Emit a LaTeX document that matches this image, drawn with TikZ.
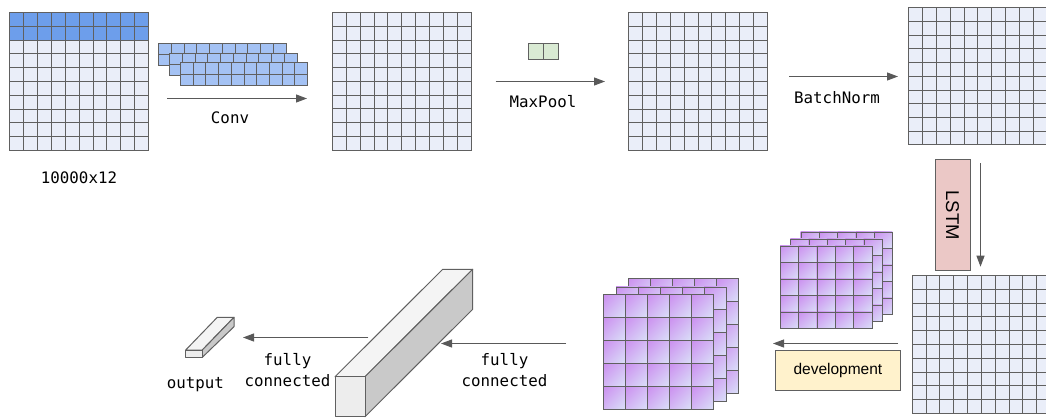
\documentclass[tikz,border=0pt]{standalone}
\usepackage{fontspec}
\setmonofont{DejaVu Sans Mono}
\setsansfont{Liberation Sans}
\usetikzlibrary{arrows.meta,shadings}
\definecolor{cellbg}{HTML}{EAEEF9}
\definecolor{blueA}{HTML}{6D9EEB}
\definecolor{blueB}{HTML}{A4C2F4}
\definecolor{greenA}{HTML}{D9EAD3}
\definecolor{lstmbg}{HTML}{EBC8C6}
\definecolor{devbg}{HTML}{FFF2CC}
\definecolor{gline}{HTML}{606060}
\definecolor{arr}{HTML}{595959}
\definecolor{pA}{HTML}{CB8EEF}
\definecolor{pB}{HTML}{DAE0F8}
\definecolor{pM}{HTML}{D3B7F4}
\definecolor{barF}{HTML}{EDEDED}
\definecolor{barT}{HTML}{F4F4F4}
\definecolor{barS}{HTML}{C9C9C9}
\tikzset{
  gridline/.style={draw=gline, line width=1.4pt, line cap=rect},
  flow/.style={draw=arr, line width=1pt, -{Triangle[length=11pt,width=8pt]}},
  mono/.style={font=\fontsize{15.8}{21}\selectfont\ttfamily, text=black, inner sep=0pt, align=center},
  barface/.style={draw=gline, line width=1pt, line join=round},
}
% snapped grid: x0 y0 x1 y1 nx ny fill
\newcommand\cellgrid[7]{%
  \fill[#7] (#1,#2) rectangle (#3,#4);
  \foreach \i in {0,...,#5}{\draw[gridline] ({round(#1+\i*(#3-#1)/#5)+0.5},{round(#2)+0.5}) -- ({round(#1+\i*(#3-#1)/#5)+0.5},{round(#4)+0.5});}
  \foreach \j in {0,...,#6}{\draw[gridline] ({round(#1)+0.5},{round(#2+\j*(#4-#2)/#6)+0.5}) -- ({round(#3)+0.5},{round(#2+\j*(#4-#2)/#6)+0.5});}
}
\newcommand\purplelayer[4]{%
  \foreach \i in {0,...,4}{\foreach \j in {0,...,4}{%
    \shade[upper left=pA, lower right=pB, upper right=pM, lower left=pM]
      ({#1+\i*#3/5},{#2+\j*#4/5}) rectangle ++({#3/5},{#4/5});
  }}
  \foreach \i in {0,...,5}{\draw[gridline] ({round(#1+\i*#3/5)+0.5},{round(#2)+0.5}) -- ({round(#1+\i*#3/5)+0.5},{round(#2+#4)+0.5});}
  \foreach \j in {0,...,5}{\draw[gridline] ({round(#1)+0.5},{round(#2+\j*#4/5)+0.5}) -- ({round(#1+#3)+0.5},{round(#2+\j*#4/5)+0.5});}
}
\begin{document}
\begin{tikzpicture}[x=1pt,y=-1pt]
\useasboundingbox (0,0) rectangle (1046,418);
\fill[white] (0,0) rectangle (1046,418);

% input grid with two blue rows
\fill[cellbg] (9.3,12) rectangle (148,150);
\fill[blueA] (9.3,12) rectangle (148,40);
\cellgrid{9.3}{12}{148}{150}{10}{10}{blueA,fill opacity=0}
\node[mono] (inlabel) at (79,178) {10000x12};

% conv kernels
\cellgrid{158}{43.3}{285.7}{65}{10}{2}{blueB}
\cellgrid{169}{52.7}{296.7}{75}{10}{2}{blueB}
\cellgrid{180}{62.3}{307}{85}{10}{2}{blueB}
\coordinate (c1s) at (167,98.5);
\coordinate (c1e) at (307,98.5);
\draw[flow] (c1s) -- (c1e);
\node[mono] (convlabel) at (230,118) {Conv};

% grid 2
\cellgrid{332}{12}{470.7}{149.5}{10}{10}{cellbg}

% maxpool
\cellgrid{527.7}{43.3}{557.7}{58.7}{2}{1}{greenA}
\coordinate (m1s) at (495.7,81.5);
\coordinate (m1e) at (605,81.5);
\draw[flow] (m1s) -- (m1e);
\node[mono] (poollabel) at (543,102) {MaxPool};

% grid 3
\cellgrid{628.3}{12}{766.7}{150}{10}{10}{cellbg}
\coordinate (b1s) at (789,76.5);
\coordinate (b1e) at (898,76.5);
\draw[flow] (b1s) -- (b1e);
\node[mono] (bnlabel) at (837,98) {BatchNorm};

% grid 4
\cellgrid{908.3}{7.3}{1046.6}{144.3}{10}{10}{cellbg}

% LSTM
\node[draw=gline, line width=1pt, fill=lstmbg, minimum width=35pt, minimum height=110.7pt, inner sep=0pt] (lstm) at (952.5,215.3) {};
\node[rotate=-90, font=\fontsize{18.5}{20}\sffamily] (lstmtext) at (lstm.center) {LSTM};
\coordinate (l1s) at (980.5,163.3);
\coordinate (l1e) at (980.5,266.7);
\draw[flow] (l1s) -- (l1e);

% grid 5
\cellgrid{911.7}{275}{1050}{413}{10}{10}{cellbg}

% right purple stack
\purplelayer{800.7}{231.7}{91.7}{82.6}
\purplelayer{790.3}{238.7}{91.7}{82.6}
\purplelayer{780}{245.7}{91.7}{82.6}

% development
\coordinate (d1s) at (898,343.5);
\coordinate (d1e) at (773,343.5);
\draw[flow] (d1s) -- (d1e);
\node[draw=gline, line width=1pt, fill=devbg, minimum width=125.7pt, minimum height=40pt, inner sep=0pt,
      font=\fontsize{15.5}{18}\sffamily] (dev) at (837.9,370) {development};

% left purple stack
\purplelayer{628.3}{278.3}{110}{114.7}
\purplelayer{616}{286.5}{110}{114.7}
\purplelayer{603.3}{294.3}{110}{114.7}

% fully connected 1
\coordinate (f1s) at (566,343.5);
\coordinate (f1e) at (441,343.5);
\draw[flow] (f1s) -- (f1e);
\node[mono] (fc1) at (504.5,370.5) {fully\\connected};

% big bar
\draw[barface, fill=barT] (335,376.7) -- (365,376.7) -- (472.7,269.3) -- (442.7,269.3) -- cycle;
\draw[barface, fill=barS] (365,376.7) -- (472.7,269.3) -- (472.7,309.3) -- (365,416.7) -- cycle;
\draw[barface, fill=barF] (335,376.7) rectangle (365,416.7);

% fully connected 2
\coordinate (f2s) at (368.3,337.5);
\coordinate (f2e) at (243,337.5);
\draw[flow] (f2s) -- (f2e);
\node[mono] (fc2) at (287.5,370.5) {fully\\connected};

% output bar
\draw[barface, fill=barT] (185.7,350) -- (202.3,350) -- (234,317.3) -- (217.3,317.3) -- cycle;
\draw[barface, fill=barS] (202.3,350) -- (234,317.3) -- (234,326.7) -- (202.3,357.3) -- cycle;
\draw[barface, fill=barF] (185.7,350) rectangle (202.3,357.3);
\node[mono] (outlabel) at (195.3,385) {output};
\end{tikzpicture}
\end{document}
